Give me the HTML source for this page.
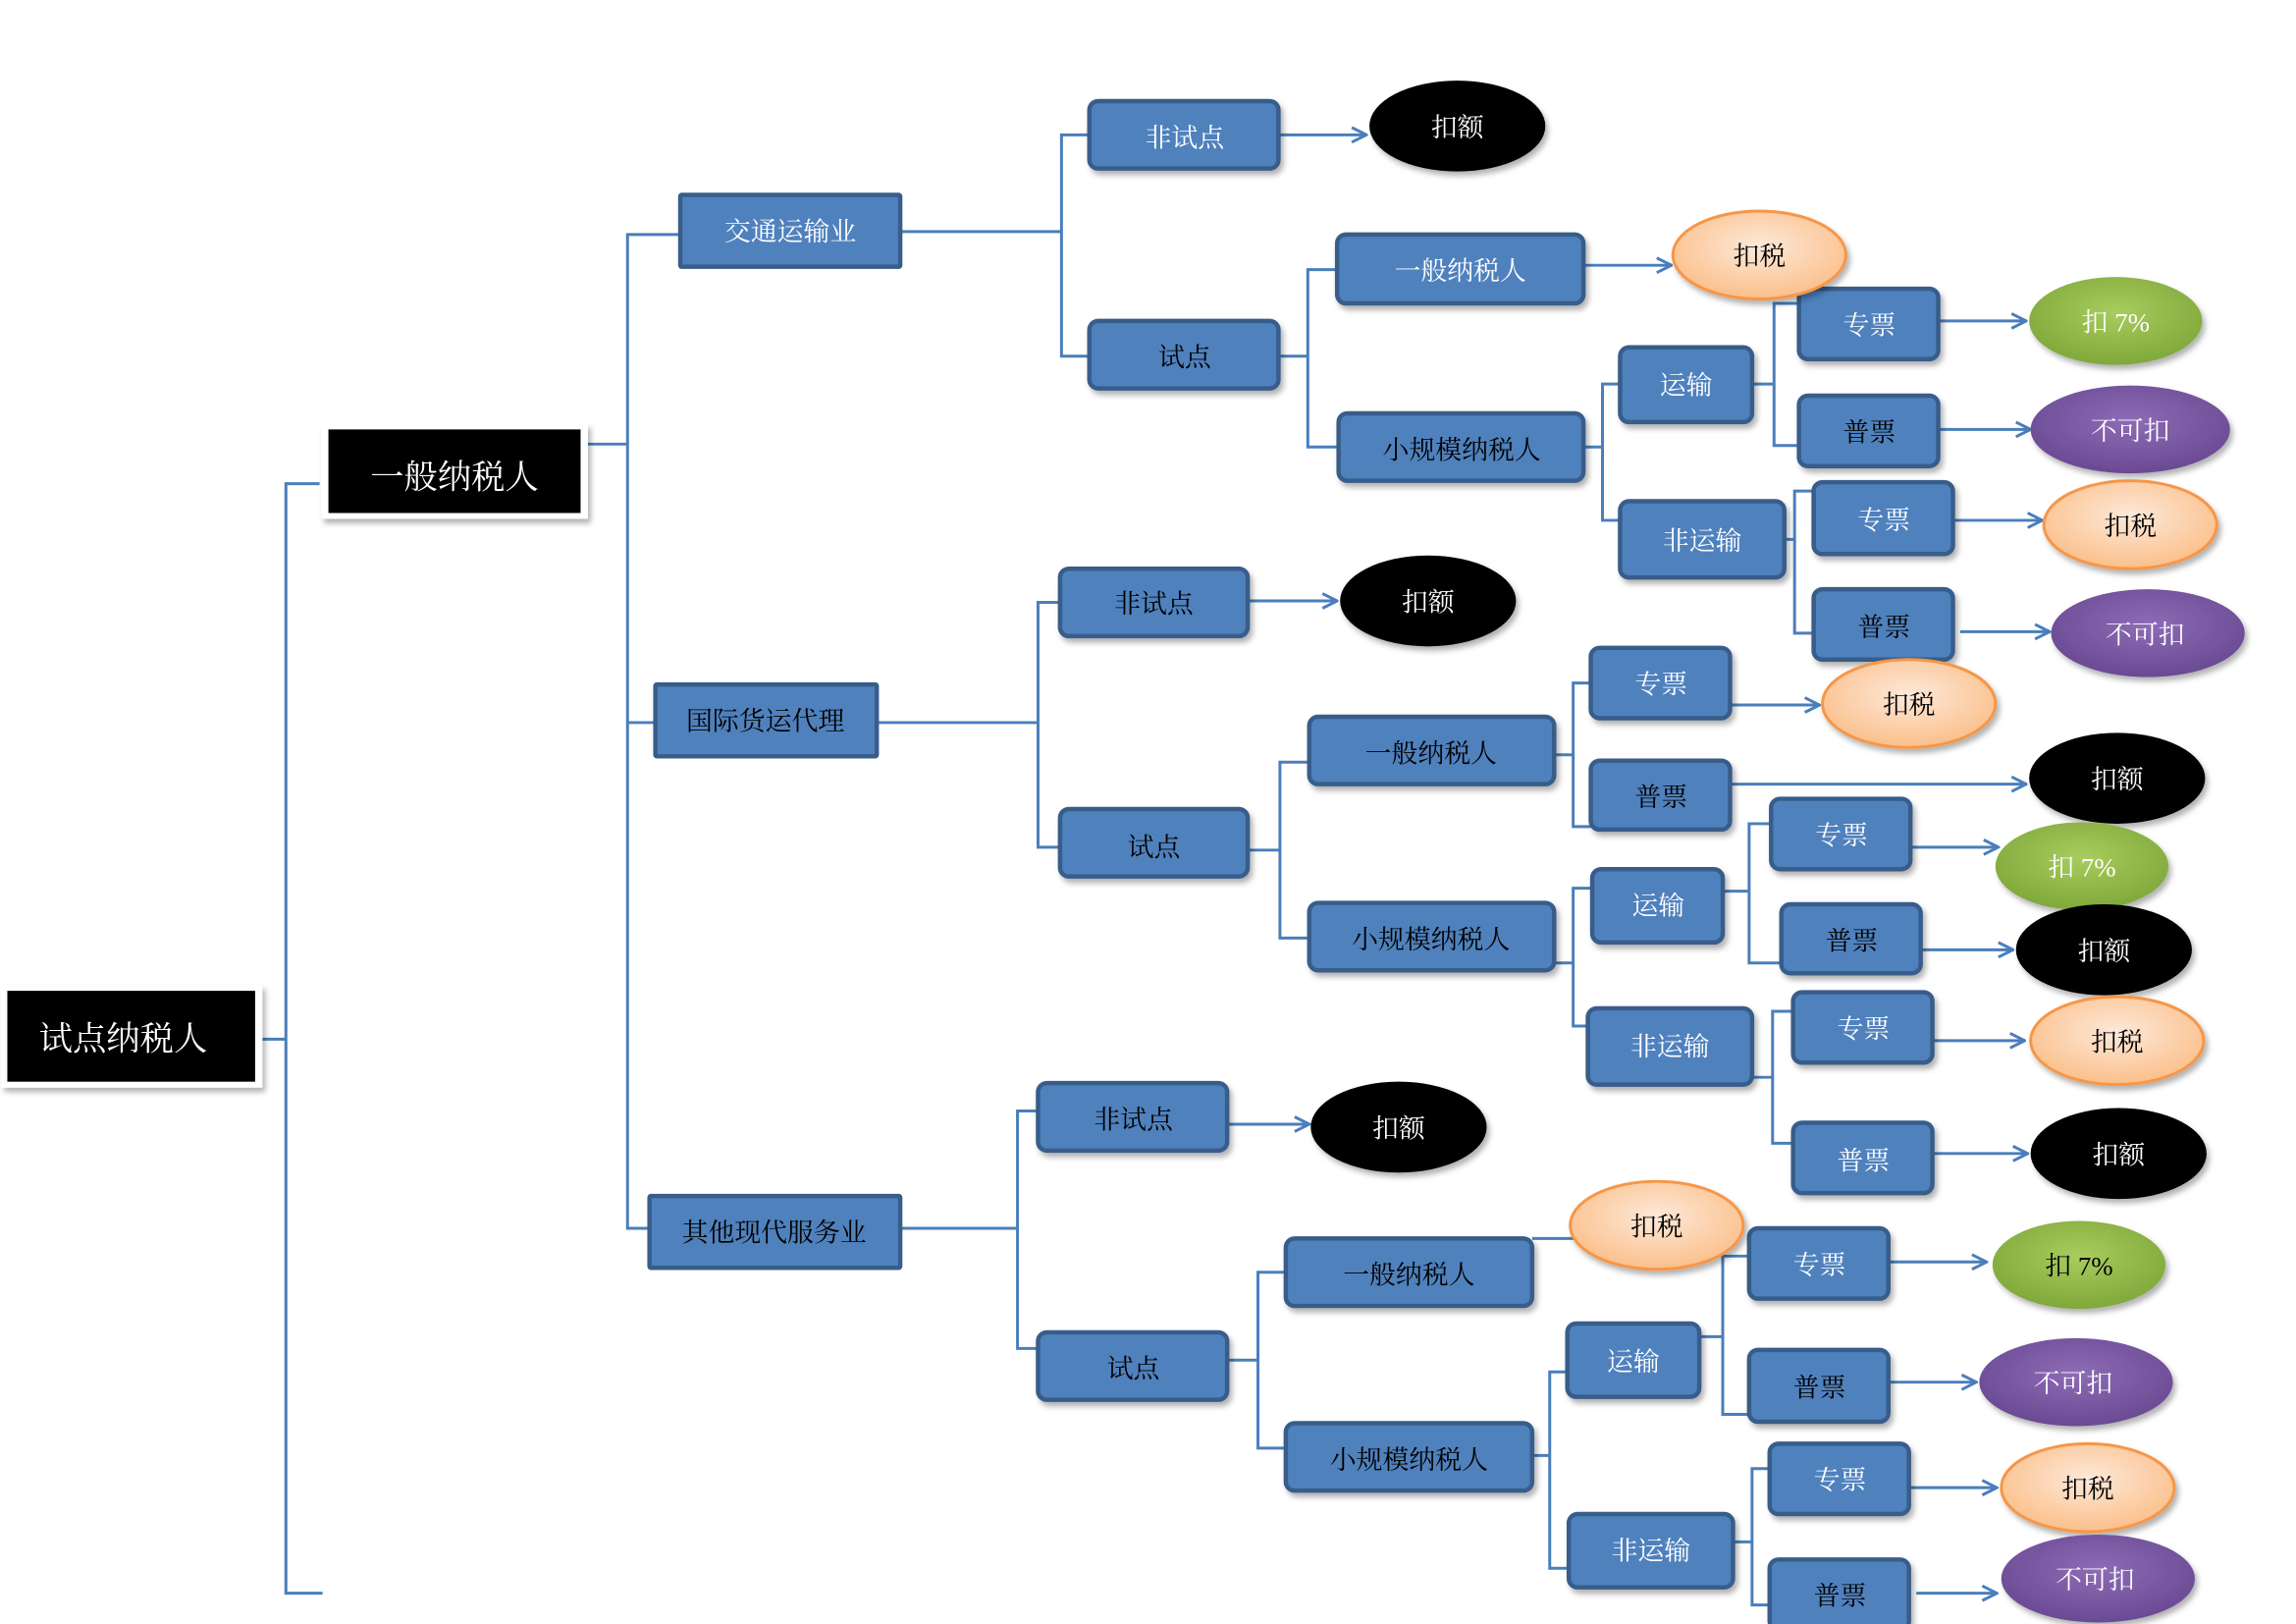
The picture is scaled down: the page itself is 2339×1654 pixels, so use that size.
<!DOCTYPE html>
<html><head><meta charset="utf-8"><style>
html,body{margin:0;padding:0;background:#fff;width:2339px;height:1654px;overflow:hidden}
svg{display:block}
text{font-family:"Liberation Serif","Noto Serif CJK SC","Noto Sans CJK SC",serif;font-size:18px;text-anchor:middle;dominant-baseline:central}
.b{fill:#4f81bd;stroke:#385d8a;stroke-width:3}
.c{fill:none;stroke:#4a7ebb;stroke-width:2}
.w{fill:#fff}.k{fill:#000}
</style></head><body>
<svg width="2339" height="1654" viewBox="0 0 1566 1108" preserveAspectRatio="none" xmlns="http://www.w3.org/2000/svg">
<defs>
<marker id="a" viewBox="0 0 12 12" refX="11" refY="6" markerWidth="12" markerHeight="12" markerUnits="userSpaceOnUse" orient="auto"><polyline points="1,1 11,6 1,11" fill="none" stroke="#4a7ebb" stroke-width="2"/></marker>
<radialGradient id="go" cx="50%" cy="40%" r="60%"><stop offset="0" stop-color="#fde9d9"/><stop offset="1" stop-color="#fbbf8a"/></radialGradient>
<radialGradient id="gg" cx="50%" cy="40%" r="60%"><stop offset="0" stop-color="#a9cc5e"/><stop offset="1" stop-color="#7fa83a"/></radialGradient>
<radialGradient id="gp" cx="50%" cy="40%" r="60%"><stop offset="0" stop-color="#8d6cb5"/><stop offset="1" stop-color="#6a4a93"/></radialGradient>
<filter id="s" x="-20%" y="-20%" width="150%" height="160%"><feDropShadow dx="2" dy="3" stdDeviation="2" flood-color="#000" flood-opacity="0.3"/></filter>
</defs>

<g class="c">
<path d="M174 709H195M218 330H195V1087H220"/>
<path d="M396 303H428M464 160H428V838H443M428 493H447"/>
<path d="M614 158H724M743 92H724V243H743"/>
<path d="M872 243H892M912 184H892V305H913"/>
<path d="M1080 305H1093M1105 262H1093V355H1105"/>
<path d="M1195 262H1210M1227 207H1210V304H1227"/>
<path d="M1217 368H1224M1237 335H1224V432H1237"/>
<path d="M598 493H708M723 411H708V578H723"/>
<path d="M851 580H873M893 520H873V640H893"/>
<path d="M1060 515H1073M1085 466H1073V564H1085"/>
<path d="M1060 657H1073M1086 606H1073V700H1083"/>
<path d="M1175 608H1193M1208 562H1193V657H1215"/>
<path d="M1195 735H1209M1223 690H1209V780H1223"/>
<path d="M614 838H694M708 758H694V920H708"/>
<path d="M837 928H858M877 868H858V988H877"/>
<path d="M1045 845H1078"/>
<path d="M1045 993H1057M1069 936H1057V1070H1070"/>
<path d="M1159 912H1175M1193 857H1175V965H1193"/>
<path d="M1182 1052H1195M1207 1002H1195V1095H1207"/>
</g>
<g class="c" marker-end="url(#a)">
<path d="M872 92H932"/><path d="M1080 181H1140"/>
<path d="M1322 219H1382"/><path d="M1322 293H1385"/>
<path d="M1332 355H1393"/><path d="M1337 431H1398"/>
<path d="M851 410H912"/><path d="M1180 481H1241"/><path d="M1180 535H1382"/>
<path d="M1303 578H1363"/><path d="M1310 648H1373"/>
<path d="M1318 710H1381"/><path d="M1318 787H1383"/>
<path d="M837 767H893"/>
<path d="M1288 861H1355"/><path d="M1288 943H1348"/>
<path d="M1302 1015H1362"/><path d="M1307 1087H1362"/>
</g>

<g filter="url(#s)">
<rect x="1" y="672" width="178" height="70" fill="#fff"/>
<rect x="219" y="289" width="182" height="65" fill="#fff"/>
</g>
<rect x="5" y="676" width="169" height="62" fill="#000"/>
<text x="84" y="709" class="w" style="font-size:23px">试点纳税人</text>
<rect x="224" y="293" width="172" height="57" fill="#000"/>
<text x="310" y="326" class="w" style="font-size:23px">一般纳税人</text>

<rect x="464" y="133" width="150" height="49" class="b" rx="1"/><text x="539" y="158" class="w">交通运输业</text>
<rect x="447" y="467" width="151" height="49" class="b" rx="1"/><text x="522" y="492" class="k">国际货运代理</text>
<rect x="443" y="816" width="171" height="49" class="b" rx="1"/><text x="528" y="841" class="k">其他现代服务业</text>

<g filter="url(#s)">
<rect x="743" y="69" width="129" height="46" rx="6" class="b"/>
<rect x="743" y="219" width="129" height="46" rx="6" class="b"/>
<rect x="912" y="160" width="168" height="47" rx="6" class="b"/>
<rect x="913" y="282" width="167" height="46" rx="6" class="b"/>
<rect x="1105" y="237" width="90" height="51" rx="6" class="b"/>
<rect x="1105" y="342" width="112" height="52" rx="6" class="b"/>
<rect x="1227" y="197" width="95" height="48" rx="6" class="b"/>
<rect x="1227" y="270" width="95" height="48" rx="6" class="b"/>
<rect x="1237" y="329" width="95" height="49" rx="6" class="b"/>
<rect x="1237" y="402" width="95" height="48" rx="6" class="b"/>

<rect x="723" y="388" width="128" height="46" rx="6" class="b"/>
<rect x="723" y="552" width="128" height="46" rx="6" class="b"/>
<rect x="893" y="489" width="167" height="46" rx="6" class="b"/>
<rect x="1085" y="442" width="95" height="48" rx="6" class="b"/>
<rect x="1085" y="519" width="95" height="47" rx="6" class="b"/>
<rect x="893" y="616" width="167" height="46" rx="6" class="b"/>
<rect x="1086" y="593" width="89" height="50" rx="6" class="b"/>
<rect x="1083" y="688" width="112" height="52" rx="6" class="b"/>
<rect x="1208" y="545" width="95" height="48" rx="6" class="b"/>
<rect x="1215" y="617" width="95" height="47" rx="6" class="b"/>
<rect x="1223" y="677" width="95" height="48" rx="6" class="b"/>
<rect x="1223" y="766" width="95" height="48" rx="6" class="b"/>

<rect x="708" y="739" width="129" height="46" rx="6" class="b"/>
<rect x="708" y="909" width="129" height="46" rx="6" class="b"/>
<rect x="877" y="845" width="168" height="46" rx="6" class="b"/>
<rect x="877" y="971" width="168" height="46" rx="6" class="b"/>
<rect x="1069" y="903" width="90" height="50" rx="6" class="b"/>
<rect x="1070" y="1033" width="112" height="50" rx="6" class="b"/>
<rect x="1193" y="838" width="95" height="48" rx="6" class="b"/>
<rect x="1193" y="921" width="95" height="49" rx="6" class="b"/>
<rect x="1207" y="985" width="95" height="48" rx="6" class="b"/>
<rect x="1207" y="1064" width="95" height="48" rx="6" class="b"/>
</g>
<g>
<text x="808" y="94" class="w">非试点</text>
<text x="808" y="244" class="k">试点</text>
<text x="996" y="185" class="w">一般纳税人</text>
<text x="997" y="307" class="k">小规模纳税人</text>
<text x="1150" y="263" class="w">运输</text>
<text x="1161" y="369" class="w">非运输</text>
<text x="1275" y="222" class="w">专票</text>
<text x="1275" y="295" class="k">普票</text>
<text x="1285" y="355" class="w">专票</text>
<text x="1285" y="428" class="k">普票</text>

<text x="787" y="412" class="k">非试点</text>
<text x="787" y="578" class="k">试点</text>
<text x="976" y="514" class="k">一般纳税人</text>
<text x="1133" y="467" class="w">专票</text>
<text x="1133" y="544" class="k">普票</text>
<text x="976" y="641" class="k">小规模纳税人</text>
<text x="1131" y="618" class="w">运输</text>
<text x="1139" y="714" class="w">非运输</text>
<text x="1256" y="570" class="w">专票</text>
<text x="1263" y="642" class="k">普票</text>
<text x="1271" y="702" class="w">专票</text>
<text x="1271" y="792" class="w">普票</text>

<text x="773" y="764" class="k">非试点</text>
<text x="773" y="934" class="k">试点</text>
<text x="961" y="870" class="k">一般纳税人</text>
<text x="961" y="996" class="k">小规模纳税人</text>
<text x="1114" y="929" class="w">运输</text>
<text x="1126" y="1058" class="w">非运输</text>
<text x="1241" y="863" class="w">专票</text>
<text x="1241" y="947" class="k">普票</text>
<text x="1255" y="1010" class="w">专票</text>
<text x="1255" y="1089" class="k">普票</text>
</g>

<g filter="url(#s)">
<ellipse cx="994" cy="86" rx="60" ry="31" fill="#000"/>
<ellipse cx="1200" cy="174" rx="59" ry="30" fill="url(#go)" stroke="#f79646" stroke-width="2"/>
<ellipse cx="1443" cy="219" rx="59" ry="30" fill="url(#gg)"/>
<ellipse cx="1453" cy="293" rx="68" ry="30" fill="url(#gp)"/>
<ellipse cx="1453" cy="358" rx="59" ry="30" fill="url(#go)" stroke="#f79646" stroke-width="2"/>
<ellipse cx="1465" cy="432" rx="66" ry="30" fill="url(#gp)"/>

<ellipse cx="974" cy="410" rx="60" ry="31" fill="#000"/>
<ellipse cx="1302" cy="480" rx="59" ry="30" fill="url(#go)" stroke="#f79646" stroke-width="2"/>
<ellipse cx="1444" cy="531" rx="60" ry="31" fill="#000"/>
<ellipse cx="1420" cy="591" rx="59" ry="30" fill="url(#gg)"/>
<ellipse cx="1435" cy="648" rx="60" ry="31" fill="#000"/>
<ellipse cx="1444" cy="710" rx="59" ry="30" fill="url(#go)" stroke="#f79646" stroke-width="2"/>
<ellipse cx="1445" cy="787" rx="60" ry="31" fill="#000"/>

<ellipse cx="954" cy="769" rx="60" ry="31" fill="#000"/>
<ellipse cx="1130" cy="836" rx="59" ry="30" fill="url(#go)" stroke="#f79646" stroke-width="2"/>
<ellipse cx="1418" cy="863" rx="59" ry="30" fill="url(#gg)"/>
<ellipse cx="1416" cy="943" rx="66" ry="30" fill="url(#gp)"/>
<ellipse cx="1424" cy="1015" rx="59" ry="30" fill="url(#go)" stroke="#f79646" stroke-width="2"/>
<ellipse cx="1431" cy="1077" rx="66" ry="30" fill="url(#gp)"/>
</g>
<g>
<text x="994" y="87" class="w">扣额</text>
<text x="1200" y="175" class="k">扣税</text>
<text x="1443" y="220" class="w">扣 7%</text>
<text x="1453" y="294" class="w">不可扣</text>
<text x="1453" y="359" class="k">扣税</text>
<text x="1463" y="433" class="w">不可扣</text>

<text x="974" y="411" class="w">扣额</text>
<text x="1302" y="481" class="k">扣税</text>
<text x="1444" y="532" class="w">扣额</text>
<text x="1420" y="592" class="w">扣 7%</text>
<text x="1435" y="649" class="w">扣额</text>
<text x="1444" y="711" class="k">扣税</text>
<text x="1445" y="788" class="w">扣额</text>

<text x="954" y="770" class="w">扣额</text>
<text x="1130" y="837" class="k">扣税</text>
<text x="1418" y="864" class="k">扣 7%</text>
<text x="1414" y="944" class="w">不可扣</text>
<text x="1424" y="1016" class="k">扣税</text>
<text x="1429" y="1078" class="w">不可扣</text>
</g>
</svg>
</body></html>
